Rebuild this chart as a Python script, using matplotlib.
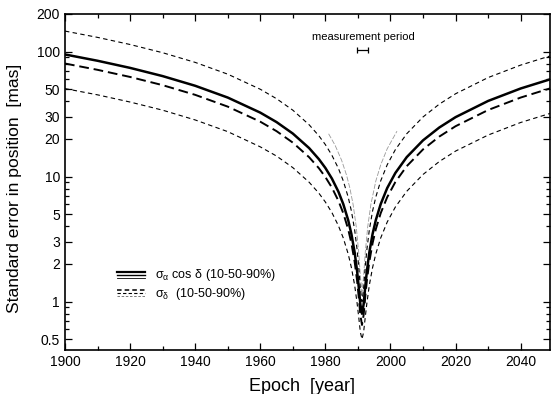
import matplotlib
matplotlib.use("Agg")
import matplotlib.pyplot as plt
from matplotlib.ticker import FixedLocator, NullFormatter, MultipleLocator

plt.rcParams['font.family'] = ['Liberation Sans', 'DejaVu Sans']
plt.rcParams['mathtext.fontset'] = 'custom'
plt.rcParams['mathtext.rm'] = 'Liberation Sans'
plt.rcParams['mathtext.it'] = 'Liberation Sans:italic'

# --------------------------------------------------
# Data
# --------------------------------------------------
epochs = [1900, 1910, 1920, 1930, 1940, 1950, 1960, 1965, 1970, 1975, 1978,
          1980, 1982, 1984, 1985.5, 1987, 1988, 1989, 1989.75, 1990.25,
          1990.75, 1991.25, 1991.75, 1992.25, 1992.75, 1993.5, 1994.5,
          1995.5, 1997, 1999, 2001.5, 2005, 2010, 2015, 2020, 2030, 2040, 2050]

# sigma_alpha cos delta, median
ra_50 = [94.9, 84.5, 74.1, 63.7, 53.3, 42.9, 32.5, 27.3, 22.1, 16.92, 13.80,
         11.73, 9.65, 7.58, 6.03, 4.49, 3.47, 2.47, 1.75, 1.31, 0.95, 0.80,
         0.95, 1.31, 1.75, 2.47, 3.47, 4.49, 6.03, 8.10, 10.69, 14.32, 19.5,
         24.7, 29.9, 40.3, 50.7, 61.1]

# sigma_delta, 10 / 50 / 90 %
dec_10 = [50.6, 45.1, 39.5, 34.0, 28.4, 22.9, 17.3, 14.6, 11.8, 9.02, 7.37,
          6.26, 5.16, 4.05, 3.23, 2.41, 1.87, 1.35, 0.97, 0.75, 0.57, 0.50,
          0.57, 0.75, 0.97, 1.35, 1.87, 2.41, 3.23, 4.33, 5.71, 7.63, 10.4,
          13.2, 16.0, 21.5, 27.1, 32.6]
dec_50 = [80.3, 71.5, 62.7, 53.9, 45.1, 36.3, 27.5, 23.1, 18.7, 14.3, 11.68,
          9.92, 8.17, 6.41, 5.10, 3.80, 2.93, 2.08, 1.47, 1.09, 0.78, 0.65,
          0.78, 1.09, 1.47, 2.08, 2.93, 3.80, 5.10, 6.85, 9.05, 12.12, 16.5,
          20.9, 25.3, 34.1, 42.9, 51.7]
dec_90 = [146, 130, 114, 98, 82, 66, 50, 42, 34, 26, 21.22, 18.03, 14.83,
          11.64, 9.25, 6.87, 5.30, 3.74, 2.60, 1.89, 1.28, 1.0, 1.28, 1.89,
          2.60, 3.74, 5.30, 6.87, 9.25, 12.44, 16.43, 22.02, 30.0, 38.0, 46.0,
          62.0, 78.0, 94.0]

# faint sigma_alpha cos delta 90 % curve, only visible near the minimum
faint_epochs = [1981, 1983, 1985, 1986.5, 1987.5, 1988.5, 1989.5, 1990.25,
                1990.75, 1991.25, 1991.75, 1992.25, 1993, 1994, 1995.5, 1997,
                1999, 2002]
ra_90_faint = [22.0, 17.78, 13.49, 10.28, 8.15, 6.03, 3.95, 2.46, 1.61, 1.2,
               1.61, 2.46, 3.95, 6.03, 9.22, 12.42, 16.7, 23.1]

period_start, period_end = 1989.85, 1993.21
period_level = 103

ytick_vals = [0.5, 1, 2, 3, 5, 10, 20, 30, 50, 100, 200]
ytick_labels = ['0.5', '1', '2', '3', '5', '10', '20', '30', '50', '100', '200']
yminor_vals = [0.6, 0.7, 0.8, 0.9, 4, 6, 7, 8, 9, 40, 60, 70, 80, 90]

# --------------------------------------------------
# Plot
# --------------------------------------------------
fig = plt.figure(figsize=(5.53, 3.94), dpi=100)
ax = fig.add_axes([0.1175, 0.1117, 0.877, 0.8528])

dash_thick = (0, (5, 2.5))
dash_thin = (0, (4, 3))

ax.plot(faint_epochs, ra_90_faint, color='0.6', lw=0.6, ls=(0, (6, 2)))
ax.plot(epochs, dec_90, color='k', lw=0.8, ls=dash_thin)
ax.plot(epochs, dec_10, color='k', lw=0.8, ls=dash_thin)
ax.plot(epochs, dec_50, color='k', lw=1.4, ls=dash_thick)
ax.plot(epochs, ra_50, color='k', lw=1.8)

# measurement period marker
mid = 0.5 * (period_start + period_end)
ax.errorbar(mid, period_level, xerr=0.5 * (period_end - period_start),
            fmt='none', ecolor='k', elinewidth=0.9, capsize=2.5, capthick=0.9)
ax.text(mid, 120, 'measurement period', ha='center', va='bottom', fontsize=8)

# hand-drawn legend
lx = [0.107, 0.165]
for yy, lw in zip([0.232, 0.223, 0.214], [1.6, 1.0, 0.6]):
    ax.plot(lx, [yy, yy], transform=ax.transAxes, color='k', lw=lw)
for yy, lw, c in zip([0.179, 0.170, 0.161], [1.1, 0.8, 0.6], ['k', 'k', '0.4']):
    ax.plot(lx, [yy, yy], transform=ax.transAxes, color=c, lw=lw, ls=(0, (3, 2)))
ax.text(0.186, 0.224, r'$\mathregular{\sigma_\alpha}$ cos $\mathregular{\delta}$ (10-50-90%)',
        transform=ax.transAxes, fontsize=9, va='center')
ax.text(0.186, 0.167, r'$\mathregular{\sigma_\delta}$  (10-50-90%)',
        transform=ax.transAxes, fontsize=9, va='center')

ax.set_yscale('log')
ax.set_xlim(1900, 2049)
ax.set_ylim(0.41, 200)

ax.xaxis.set_major_locator(MultipleLocator(20))
ax.xaxis.set_minor_locator(MultipleLocator(10))
ax.yaxis.set_major_locator(FixedLocator(ytick_vals))
ax.set_yticklabels(ytick_labels)
ax.yaxis.set_minor_locator(FixedLocator(yminor_vals))
ax.yaxis.set_minor_formatter(NullFormatter())

ax.tick_params(which='both', direction='in', top=True, right=True,
               labelsize=10, width=0.9)
ax.tick_params(which='major', length=5)
ax.tick_params(which='minor', length=3)
for s in ax.spines.values():
    s.set_linewidth(1.2)

ax.set_xlabel('Epoch  [year]', fontsize=13)
ax.set_ylabel('Standard error in position  [mas]', fontsize=12.6)
ax.xaxis.set_label_coords(0.488, -0.083)
ax.yaxis.set_label_coords(-0.089, 0.482)

fig.savefig('out.png', dpi=100)
